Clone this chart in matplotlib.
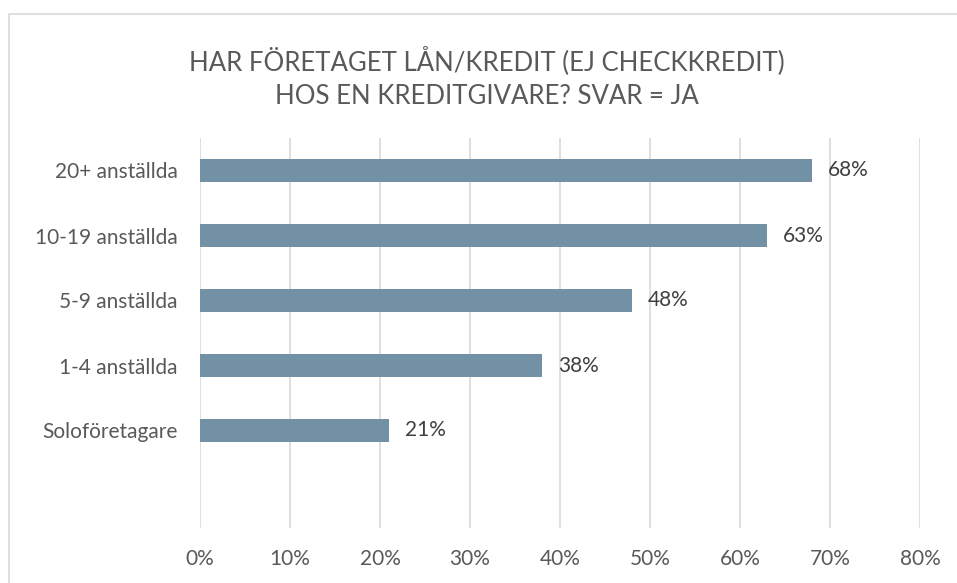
import matplotlib.pyplot as plt
from matplotlib.patches import Rectangle

categories = ['20+ anställda', '10-19 anställda', '5-9 anställda', '1-4 anställda', 'Soloföretagare']
values = [68, 63, 48, 38, 21]
xticks = [0, 10, 20, 30, 40, 50, 60, 70, 80]
title_lines = ['HAR FÖRETAGET LÅN/KREDIT (EJ CHECKKREDIT)', 'HOS EN KREDITGIVARE? SVAR = JA']

W, H = 957, 583
fig = plt.figure(figsize=(W / 100, H / 100), dpi=100)
plt.rcParams['font.family'] = ['Lato', 'DejaVu Sans']

ax = fig.add_axes([200 / W, 1 - 528 / H, 720 / W, 390 / H])

ypos = list(range(len(categories)))
ax.barh(ypos, values, height=0.35, color='#7391A4', zorder=2)
for y, v in zip(ypos, values):
    ax.text(v + 1.8, y, f'{v}%', va='center', ha='left', fontsize=15, color='#404040')

ax.set_xlim(0, 80)
ax.set_ylim(len(categories) + 0.5, -0.5)
ax.set_yticks(ypos)
ax.set_yticklabels(categories, fontsize=15, color='#595959')
ax.set_xticks(xticks)
ax.set_xticklabels([f'{t}%' for t in xticks], fontsize=15, color='#595959')
ax.tick_params(axis='both', length=0)
ax.tick_params(axis='x', pad=15)
ax.tick_params(axis='y', pad=16)
ax.grid(axis='x', color='#D9D9D9', lw=1.2, zorder=0)
for s in ax.spines.values():
    s.set_visible(False)

fig.text(487 / W, 1 - 61 / H, title_lines[0], ha='center', va='center',
         fontsize=18.5, color='#595959')
fig.text(487 / W, 1 - 96 / H, title_lines[1], ha='center', va='center',
         fontsize=18.5, color='#595959')

fig.patches.append(Rectangle((9 / W, -0.1), 1.2, 1 - 14 / H + 0.1, transform=fig.transFigure,
                             fill=False, edgecolor='#D9D9D9', lw=1.2))

fig.savefig('out.png', dpi=100)
